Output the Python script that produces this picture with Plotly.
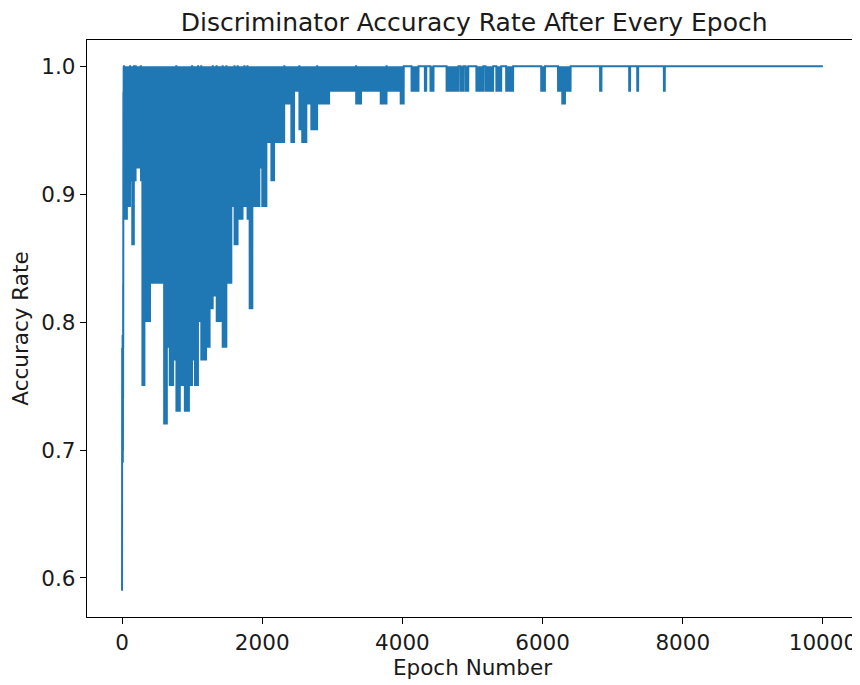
import numpy as np
import plotly.graph_objects as go

# ---- data ----
n_epochs = 10000
baseline_accuracy = 1.0

# first epochs (start of training)
early_values = [0.59, 0.69, 0.78, 0.69, 0.76, 0.70, 0.78, 0.69, 0.79, 0.72,
                0.78, 0.69, 0.77, 0.70, 0.79, 0.74, 0.83, 0.78, 0.88, 0.98,
                0.89, 0.98, 0.92, 1.0, 0.89, 1.0, 0.98, 1.0, 0.88, 1.0]

# ranges of epochs in which accuracy keeps dropping from 1.0 to a floor value
seg_start = [30, 70, 115, 145, 170, 195, 270, 290, 320, 400, 600, 640, 680, 730,
             775, 825, 895, 955, 1000, 1040, 1085, 1130, 1200, 1250, 1295, 1350,
             1435, 1490, 1560, 1605, 1650, 1720, 1745, 1790, 1820, 1860, 1960,
             2000, 2060, 2130, 2170, 2315, 2415, 2455, 2530, 2570, 2630, 2700,
             2785, 2955, 3340, 3410, 3690, 3775, 3975, 4130, 4320, 4400, 4630,
             4830, 4900, 5055, 5185, 5340, 5480, 5980, 6220, 6280, 6320, 6820,
             7235, 7350, 7730]
seg_end = [70, 115, 145, 170, 195, 270, 290, 320, 400, 600, 640, 680, 730, 775,
           825, 895, 955, 1000, 1040, 1085, 1130, 1200, 1250, 1295, 1350, 1435,
           1490, 1560, 1605, 1650, 1720, 1745, 1790, 1820, 1860, 1960, 2000,
           2060, 2130, 2170, 2315, 2415, 2455, 2530, 2570, 2630, 2700, 2785,
           2955, 3340, 3410, 3690, 3775, 3975, 4020, 4230, 4340, 4445, 4800,
           4870, 4940, 5155, 5295, 5410, 5580, 6035, 6280, 6320, 6400, 6840,
           7250, 7365, 7745]
seg_floor = [0.88, 0.89, 0.91, 0.86, 0.91, 0.92, 0.91, 0.75, 0.80, 0.83, 0.72,
             0.78, 0.75, 0.77, 0.73, 0.75, 0.73, 0.75, 0.77, 0.75, 0.80, 0.77,
             0.78, 0.81, 0.82, 0.80, 0.78, 0.83, 0.89, 0.86, 0.88, 0.92, 0.89,
             0.88, 0.81, 0.89, 0.92, 0.89, 0.94, 0.91, 0.94, 0.97, 0.94, 0.98,
             0.95, 0.94, 0.97, 0.95, 0.97, 0.98, 0.97, 0.98, 0.97, 0.98, 0.97,
             0.98, 0.98, 0.98, 0.98, 0.98, 0.98, 0.98, 0.98, 0.98, 0.98, 0.98,
             0.98, 0.97, 0.98, 0.98, 0.98, 0.98, 0.98]

x_ticks = [0, 2000, 4000, 6000, 8000, 10000]
y_ticks = [0.6, 0.7, 0.8, 0.9, 1.0]

# ---- build series ----
epochs = np.arange(n_epochs)
accuracy = np.full(n_epochs, baseline_accuracy)
accuracy[:len(early_values)] = early_values
for s, e, f in zip(seg_start, seg_end, seg_floor):
    accuracy[s + 1:e:2] = f

FONT = "DejaVu Sans"
TXT = "#1a1a1a"

fig = go.Figure()
fig.add_trace(go.Scatter(
    x=epochs, y=accuracy, mode="lines",
    line=dict(color="#1f77b4", width=2, simplify=False),
    hoverinfo="skip", showlegend=False,
))

axis_common = dict(
    showline=True, linecolor="black", linewidth=1.3, mirror=True,
    ticks="outside", ticklen=6, tickwidth=1.3, tickcolor="black",
    showgrid=False, zeroline=False, automargin=False,
    tickfont=dict(family=FONT, size=21.5, color=TXT),
)

# the page has an 8px body margin, so the figure is shifted up/left by it
fig.update_layout(
    width=860, height=685,
    margin=dict(l=79, r=10, t=32, b=76),
    paper_bgcolor="white", plot_bgcolor="white",
    title=dict(text="Discriminator Accuracy Rate After Every Epoch",
               x=0.542, xanchor="center", y=1 - 14 / 685, yanchor="middle",
               font=dict(family=FONT, size=25, color=TXT)),
    xaxis=dict(range=[-500, 10500], tickvals=x_ticks, tickformat="d",
               title=dict(text="Epoch Number", standoff=4,
                          font=dict(family=FONT, size=21.5, color=TXT)),
               **axis_common),
    yaxis=dict(range=[0.5695, 1.0205], tickvals=y_ticks, tickformat=".1f",
               title=dict(text="Accuracy Rate", standoff=10,
                          font=dict(family=FONT, size=21.5, color=TXT)),
               **axis_common),
)

fig.write_html("out.html")
